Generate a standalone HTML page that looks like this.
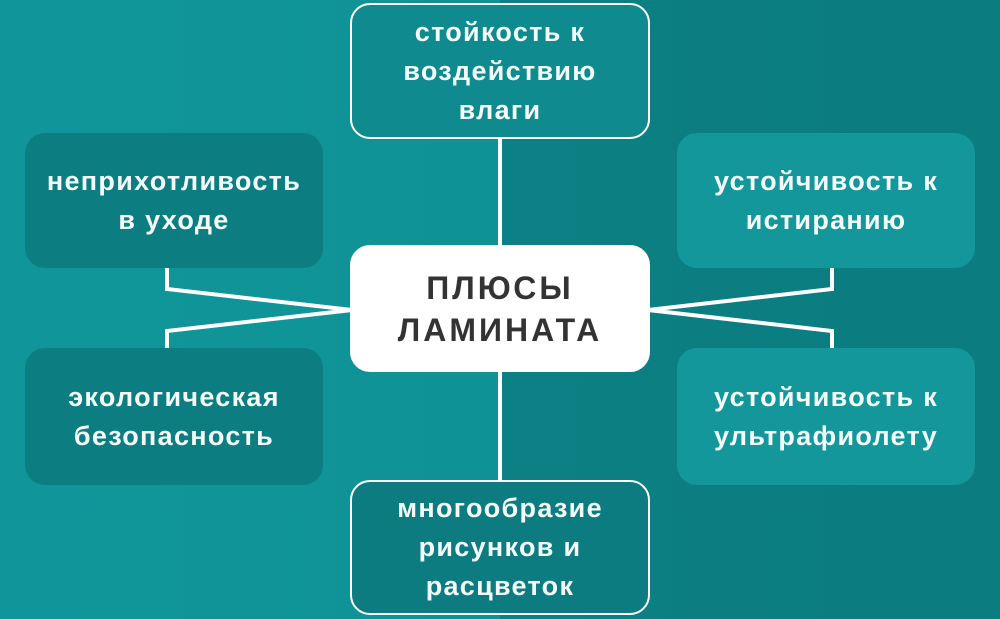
<!DOCTYPE html>
<html><head><meta charset="utf-8"><style>
body{margin:0}
#c{position:relative;width:1000px;height:619px;overflow:hidden;background:linear-gradient(90deg,#10969a 0%,#0f9296 50%,#0c8084 50%,#0b7c80 100%);font-family:"Liberation Sans",sans-serif;font-weight:bold}
.b{position:absolute;box-sizing:border-box;border-radius:20px;display:flex;align-items:center;justify-content:center;text-align:center;color:#f4fbfb;font-size:27px;line-height:39px;letter-spacing:1.3px;white-space:nowrap}
svg{position:absolute;left:0;top:0}
</style></head><body><div id="c">
<svg width="1000" height="619"><g stroke="#fff" stroke-width="4" fill="none">
<line x1="500" y1="138" x2="500" y2="246"/><line x1="500" y1="371" x2="500" y2="481"/>
<polyline points="167,268 167,289 352,310 167,331 167,350"/>
<polyline points="832,268 832,289 648,310 832,331 832,350"/>
</g></svg>
<div class="b" style="left:350px;top:3px;width:300px;height:136px;border:2.5px solid #fff;background:#0f8b8f">стойкость к<br>воздействию<br>влаги</div>
<div class="b" style="left:25px;top:133px;width:298px;height:135px;background:#0c7d81">неприхотливость<br>в уходе</div>
<div class="b" style="left:677px;top:133px;width:298px;height:135px;background:#14979b">устойчивость к<br>истиранию</div>
<div class="b" style="left:350px;top:245px;width:300px;height:127px;background:#fff;color:#333;font-size:32px;line-height:42px;letter-spacing:3px">ПЛЮСЫ<br>ЛАМИНАТА</div>
<div class="b" style="left:25px;top:348px;width:298px;height:137px;background:#0c7d81">экологическая<br>безопасность</div>
<div class="b" style="left:677px;top:348px;width:298px;height:137px;background:#14979b">устойчивость к<br>ультрафиолету</div>
<div class="b" style="left:350px;top:480px;width:300px;height:135px;border:2.5px solid #fff;background:#0c7c80">многообразие<br>рисунков и<br>расцветок</div>
</div></body></html>
